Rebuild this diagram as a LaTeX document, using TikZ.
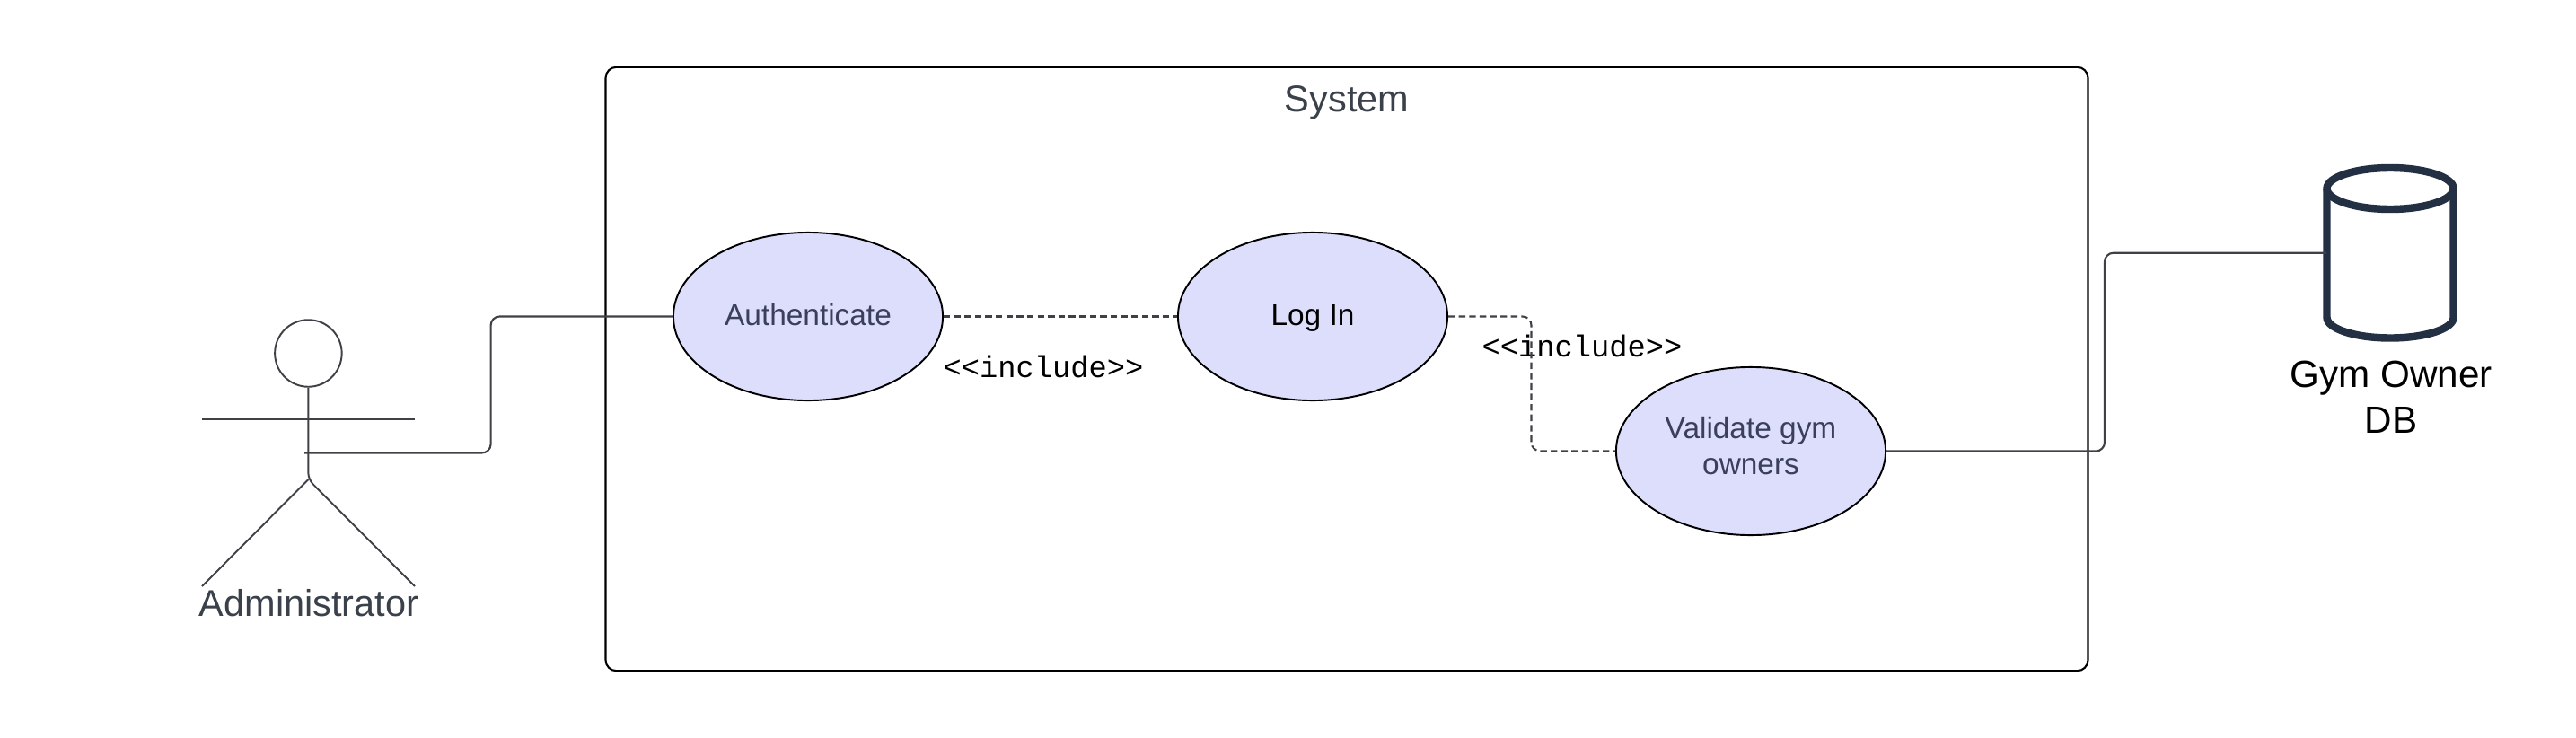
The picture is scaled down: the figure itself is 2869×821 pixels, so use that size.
\documentclass[tikz,border=0pt]{standalone}
\usepackage{fontspec}
\setmainfont{Liberation Sans}
\setmonofont{Liberation Mono}
\usetikzlibrary{shapes.geometric}
\definecolor{linegray}{HTML}{3F4146}
\definecolor{textgray}{HTML}{3A414A}
\definecolor{usecasetext}{HTML}{3A4059}
\definecolor{usecasefill}{HTML}{DDDDFC}
\definecolor{dbnavy}{HTML}{233044}
\tikzset{
  usecase/.style={shape=ellipse,draw=black,line width=0.55pt,fill=usecasefill,minimum width=3cm,minimum height=1.87cm,inner sep=0,text=usecasetext,font=\fontsize{9.5}{11.4}\selectfont,align=center,text height=5.9pt,text depth=0pt},
  assoc/.style={draw=linegray,line width=0.6pt,rounded corners=2.8pt},
  incl/.style={assoc,dash pattern=on 2.1pt off 1.2pt},
  stick/.style={draw=linegray,line width=0.55pt},
  inclabel/.style={anchor=base,inner sep=0,font=\fontsize{9.6}{11}\ttfamily},
  biglabel/.style={anchor=base,inner sep=0,font=\fontsize{11.8}{14.5}\selectfont},
  dbline/.style={draw=dbnavy,line width=2.4pt,line join=round}
}
\begin{document}
\begin{tikzpicture}[x=0.01cm,y=-0.01cm]
\useasboundingbox (0,0) rectangle (2869,821);
\node[draw=black,line width=0.6pt,rounded corners=3.4pt,minimum width=16.5cm,minimum height=6.72cm,inner sep=0] (system) at (1500,411) {};
\node[biglabel,text=textgray] (systemlabel) at (1500,124) {System};
\node[usecase] (auth) at (900,352.5) {Authenticate};
\node[usecase,text=black] (login) at (1462,352.5) {Log In};
\node[usecase,text height=14.6pt] (validate) at (1950,502.5) {Validate gym\\owners};
\node[inclabel] (inc1) at (1162,420) {<{}<include>{}>};
\node[inclabel] (inc2) at (1762,397) {<{}<include>{}>};
% actor
\node[shape=circle,stick,minimum size=0.745cm,inner sep=0] (head) at (343.4,393.5) {};
\coordinate (larm) at (225,467);
\coordinate (rarm) at (462,467);
\coordinate (waist) at (343.4,534);
\coordinate (lfoot) at (225,653);
\coordinate (rfoot) at (462,653);
\coordinate (hand) at (339,504.5);
\draw[stick] (larm)--(rarm);
\draw[stick,rounded corners=2pt] (head.south)--(waist)--(rfoot);
\draw[stick] (waist)--(lfoot);
\node[biglabel,text=textgray] (actorlabel) at (344,686) {Administrator};
% database
\node[minimum width=1.41cm,minimum height=1.895cm,inner sep=0] (db) at (2662,281.7) {};
\coordinate (dbtop) at (2662,210);
\coordinate (dbtl) at (2591.5,210);
\coordinate (dbtr) at (2732.5,210);
\coordinate (dbbl) at (2591.5,353.5);
\draw[dbline] (dbtop) ellipse[x radius=0.705cm,y radius=0.23cm];
\draw[dbline] (dbtl)--(dbbl) arc[start angle=180,end angle=360,x radius=0.705cm,y radius=0.23cm]--(dbtr);
\node[biglabel,align=center,font=\fontsize{12}{14.5}\selectfont] (dblabel) at (2663,482) {Gym Owner\\DB};
% connectors
\coordinate (b1) at (546.6,504.5);
\coordinate (b2) at (546.6,352.5);
\draw[assoc] (hand)--(b1)--(b2)--(auth.west);
\draw[incl] (auth.east)--(login.west);
\coordinate (b3) at (1705.5,352.5);
\coordinate (b4) at (1705.5,502.5);
\draw[incl] (login.east)--(b3)--(b4)--(validate.west);
\coordinate (b5) at (2344,502.5);
\coordinate (b6) at (2344,281.7);
\draw[assoc] (validate.east)--(b5)--(b6)--(db.west);
\end{tikzpicture}
\end{document}
